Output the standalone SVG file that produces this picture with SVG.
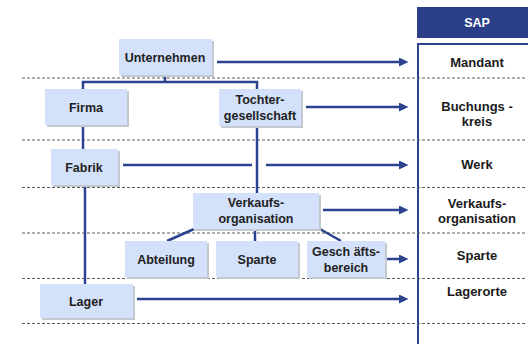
<svg xmlns="http://www.w3.org/2000/svg" width="528" height="344" viewBox="0 0 528 344">
<style>
.bg{fill:#ffffff}
.node{fill:#d3e1fa}
.sh{fill:#c4c8cf}
.t{font-family:"Liberation Sans",Arial,sans-serif;font-weight:bold;font-size:12.5px;fill:#222;text-anchor:middle}
.r{font-family:"Liberation Sans",Arial,sans-serif;font-weight:bold;font-size:13px;fill:#1a1a1a;text-anchor:middle}
.dash{stroke:#5a5a5a;stroke-width:1;stroke-dasharray:3 2;fill:none}
.c{stroke:#2c4490;stroke-width:2.5;fill:none}
.a{stroke:#2c4490;stroke-width:2.5;fill:none;marker-end:url(#ah)}
</style>
<defs>
<marker id="ah" markerUnits="userSpaceOnUse" markerWidth="10" markerHeight="9" refX="0" refY="4.5" orient="auto">
<path d="M0,0 L9.5,4.5 L0,9 z" fill="#2c4490"/>
</marker>
</defs>
<rect class="bg" x="0" y="0" width="528" height="344"/>

<g id="sap">
<rect x="417" y="7" width="120" height="31" fill="#2a3f88"/>
<text x="477" y="27" font-family="Liberation Sans,Arial,sans-serif" font-weight="bold" font-size="12.5" fill="#ffffff" text-anchor="middle">SAP</text>
<rect x="418" y="44" width="130" height="320" fill="#ffffff" stroke="#2c4490" stroke-width="2"/>
</g>

<g id="dashes">
<line class="dash" x1="22" y1="78" x2="526" y2="78"/>
<line class="dash" x1="22" y1="140" x2="526" y2="140"/>
<line class="dash" x1="22" y1="187.5" x2="526" y2="187.5"/>
<line class="dash" x1="22" y1="233" x2="526" y2="233"/>
<line class="dash" x1="22" y1="278.5" x2="526" y2="278.5"/>
<line class="dash" x1="22" y1="323.5" x2="526" y2="323.5"/>
</g>

<g id="sap-labels">
<text class="r" x="477" y="67">Mandant</text>
<text class="r" x="477" y="111">Buchungs -</text>
<text class="r" x="477" y="126">kreis</text>
<text class="r" x="477" y="169">Werk</text>
<text class="r" x="477" y="208">Verkaufs-</text>
<text class="r" x="477" y="223">organisation</text>
<text class="r" x="477" y="260">Sparte</text>
<text class="r" x="477" y="296">Lagerorte</text>
</g>

<g id="connectors">
<polyline class="c" points="165,75 165,82"/>
<polyline class="c" points="83,89 83,82 257,82 257,89"/>
<line class="c" x1="83" y1="125" x2="83" y2="149"/>
<line class="c" x1="85" y1="185" x2="85" y2="284"/>
<line class="c" x1="257" y1="126" x2="257" y2="193"/>
<line class="c" x1="194" y1="229" x2="167" y2="241"/>
<line class="c" x1="255" y1="229" x2="255" y2="241"/>
<line class="c" x1="320" y1="229" x2="341" y2="241"/>
<line class="a" x1="217" y1="62" x2="399" y2="62"/>
<line class="a" x1="306" y1="107" x2="399" y2="107"/>
<line class="c" x1="123" y1="165" x2="252" y2="165"/>
<line class="a" x1="266" y1="165" x2="399" y2="165"/>
<line class="a" x1="323" y1="210" x2="399" y2="210"/>
<line class="a" x1="386" y1="259" x2="399" y2="259"/>
<line class="a" x1="137" y1="299" x2="399" y2="299"/>
</g>

<g id="unternehmen">
<rect class="sh" x="121" y="41" width="93" height="36"/>
<rect class="node" x="119" y="39" width="93" height="36"/>
<text class="t" x="165" y="61.5">Unternehmen</text>
</g>
<g id="firma">
<rect class="sh" x="47" y="91" width="82" height="36"/>
<rect class="node" x="45" y="89" width="82" height="36"/>
<text class="t" x="86" y="111.5">Firma</text>
</g>
<g id="tochter">
<rect class="sh" x="221" y="91" width="82" height="37"/>
<rect class="node" x="219" y="89" width="82" height="37"/>
<text class="t" x="260" y="104">Tochter-</text>
<text class="t" x="260" y="120">gesellschaft</text>
</g>
<g id="fabrik">
<rect class="sh" x="53" y="151" width="67" height="36"/>
<rect class="node" x="51" y="149" width="67" height="36"/>
<text class="t" x="84" y="171.5">Fabrik</text>
</g>
<g id="verkaufsorg">
<rect class="sh" x="195" y="195" width="126" height="36"/>
<rect class="node" x="193" y="193" width="126" height="36"/>
<text class="t" x="256" y="207">Verkaufs-</text>
<text class="t" x="256" y="223">organisation</text>
</g>
<g id="abteilung">
<rect class="sh" x="127" y="243" width="82" height="36"/>
<rect class="node" x="125" y="241" width="82" height="36"/>
<text class="t" x="166" y="263.5">Abteilung</text>
</g>
<g id="sparte">
<rect class="sh" x="218" y="243" width="82" height="36"/>
<rect class="node" x="216" y="241" width="82" height="36"/>
<text class="t" x="257" y="263.5">Sparte</text>
</g>
<g id="geschaeftsbereich">
<rect class="sh" x="309" y="243" width="78" height="36"/>
<rect class="node" x="307" y="241" width="78" height="36"/>
<text class="t" x="346" y="256">Gesch äfts-</text>
<text class="t" x="346" y="272">bereich</text>
</g>
<g id="lager">
<rect class="sh" x="42" y="286" width="93" height="34"/>
<rect class="node" x="40" y="284" width="93" height="34"/>
<text class="t" x="86" y="305.5">Lager</text>
</g>
</svg>
